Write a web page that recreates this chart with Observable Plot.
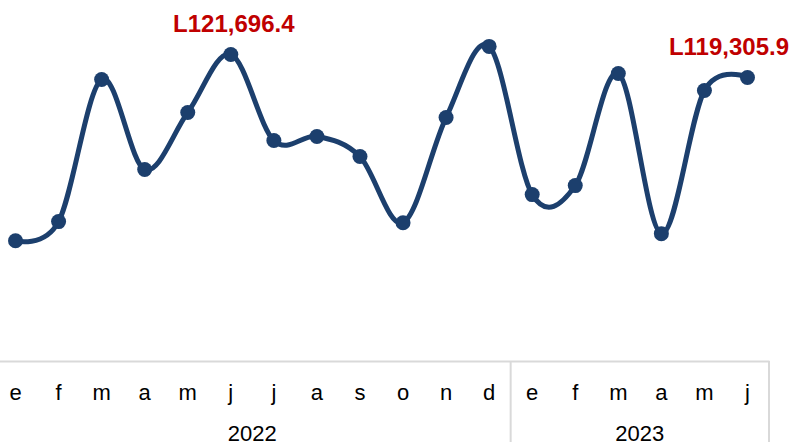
<!DOCTYPE html>
<html>
<head>
<meta charset="utf-8">
<script src="https://cdn.jsdelivr.net/npm/d3@7"></script>
<script src="https://cdn.jsdelivr.net/npm/@observablehq/plot@0.6"></script>
<style>
  html, body { margin: 0; padding: 0; background: #fff; overflow: hidden; }
  #chart svg { display: block; font-family: "Liberation Sans", Arial, sans-serif; }
</style>
</head>
<body>
<div id="chart"></div>
<script>
const months = ["e","f","m","a","m","j","j","a","s","o","n","d","e","f","m","a","m","j"];
const years = ["2022","2023"];
const yearOf = [0,0,0,0,0,0,0,0,0,0,0,0,1,1,1,1,1,1];
const values = [102350, 104330, 119100, 109740, 115660, 121696.4, 112750, 113170, 111090, 104220, 115140, 122530, 107140, 108070, 119720, 103080, 117950, 119305.9];
const labelled = [5, 17];
const labelText = ["L121,696.4", "L119,305.9"];
const yearMid = [5.5, 14.5];
const yearEdges = [11.5, 17.5];

const data = values.map((v, i) => ({i, v, month: months[i], year: years[yearOf[i]]}));
const labels = labelled.map((i, k) => ({i, v: values[i], text: labelText[k]}));

const navy = "#1c3f6d";
const grid = "#d9d9d9";

const chart = Plot.plot({
  width: 793,
  height: 442,
  marginLeft: 0,
  marginRight: 25,
  marginTop: 0,
  marginBottom: 81,
  style: {fontFamily: "'Liberation Sans', Arial, sans-serif", background: "#fff"},
  x: {type: "linear", domain: [-0.5, 17.5], range: [-6.5, 768.5], axis: null},
  y: {domain: [89800, 127300], axis: null},
  marks: [
    Plot.frame({anchor: "bottom", stroke: grid, strokeWidth: 2}),
    Plot.axisX({ticks: yearEdges, tickSize: 81, tickFormat: () => "", label: null, stroke: grid, strokeWidth: 2}),
    Plot.axisX({ticks: d3.range(months.length), tickSize: 0, tickPadding: 22.5, tickFormat: i => months[i], label: null, fontSize: 22, fill: "#000"}),
    Plot.axisX({ticks: yearMid, tickSize: 0, tickPadding: 64, tickFormat: (d, k) => years[k], label: null, fontSize: 22, fill: "#000"}),
    Plot.line(data, {x: "i", y: "v", stroke: navy, strokeWidth: 5, curve: "cardinal"}),
    Plot.dot(data, {x: "i", y: "v", r: 7.5, fill: navy, stroke: null}),
    Plot.text(labels.slice(0, 1), {x: "i", y: "v", text: "text", dy: -30, dx: 3, fill: "#c00000", fontWeight: "bold", fontSize: 24}),
    Plot.text(labels.slice(1), {x: "i", y: "v", text: "text", dy: -30, dx: -18.5, fill: "#c00000", fontWeight: "bold", fontSize: 24})
  ]
});
document.getElementById("chart").appendChild(chart);
</script>
</body>
</html>
